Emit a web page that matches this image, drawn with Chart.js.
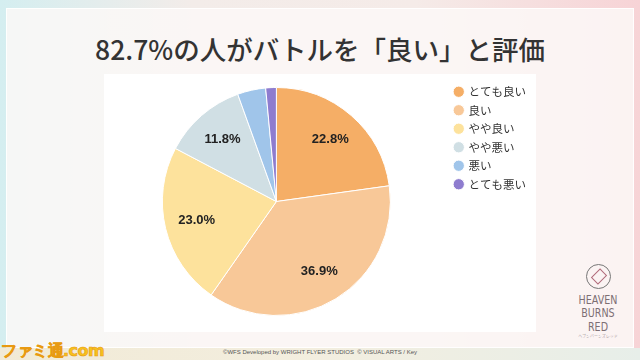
<!DOCTYPE html>
<html lang="ja">
<head>
  <meta charset="UTF-8">
  <title>82.7%の人がバトルを「良い」と評価</title>
  <script src="https://cdn.jsdelivr.net/npm/chart.js"></script>
  <style>
    html, body {
      margin: 0;
      padding: 0;
    }
    body {
      width: 640px;
      height: 360px;
      position: relative;
      overflow: hidden;
      font-family: "Noto Sans CJK JP", "Noto Sans", sans-serif;
      background: linear-gradient(90deg, #d4eef0 0%, #f3ece9 30%, #f5ebe8 65%, #f7d3d6 100%);
    }
    #panel {
      position: absolute;
      left: 6px;
      top: 8px;
      width: 626px;
      height: 338px;
      background: rgba(251, 248, 247, 0.85);
      border: 1px solid rgba(255, 255, 255, 0.9);
    }
    #footer {
      position: absolute;
      left: 0;
      top: 348px;
      width: 640px;
      height: 12px;
      background: linear-gradient(90deg, #f1ead6 0%, #f3eedf 50%, #e7eee9 100%);
    }
    #copy {
      position: absolute;
      left: 0;
      width: 640px;
      top: 348px;
      text-align: center;
      font-family: "Liberation Sans", Arial, sans-serif;
      font-size: 6px;
      color: #555;
      line-height: 9px;
    }
    #titulo {
      position: absolute;
      left: 0;
      top: 29px;
      width: 640px;
      text-align: center;
      font-size: 26.5px;
      font-weight: 500;
      color: #333;
      line-height: 40px;
    }
    #caja {
      position: absolute;
      left: 104px;
      top: 74px;
      width: 432px;
      height: 258px;
      background: #fff;
    }
    #logo {
      position: absolute;
      left: 565px;
      top: 264px;
      width: 66px;
      text-align: center;
      color: #7d6f74;
      font-family: "DejaVu Sans Condensed", "DejaVu Sans", sans-serif;
      font-weight: 300;
    }
    #logo .icono {
      width: 25px;
      height: 25px;
      margin: 0 auto 4px;
      border: 1.5px solid #777;
      border-radius: 50%;
      box-sizing: border-box;
      position: relative;
    }
    #logo .icono::after {
      content: "";
      position: absolute;
      left: 7px;
      top: 5px;
      width: 8px;
      height: 11px;
      border: 1px solid #b06a7a;
      transform: rotate(45deg);
    }
    #logo .linea {
      font-size: 12.5px;
      line-height: 13.3px;
      transform: scaleX(0.85);
    }
    #logo .kana {
      font-family: "Noto Sans CJK JP", sans-serif;
      font-size: 4px;
      line-height: 7px;
    }
    #famitsu {
      position: absolute;
      left: 1px;
      top: 341px;
      font-family: "DejaVu Sans", sans-serif;
      font-weight: bold;
      font-size: 16px;
      color: #f7c21c;
      letter-spacing: -0.5px;
      -webkit-text-stroke: 0.6px #e89a12;
    }
  </style>
</head>
<body>
  <div id="panel"></div>
  <div id="footer"></div>
  <div id="copy">©WFS Developed by WRIGHT FLYER STUDIOS &nbsp;© VISUAL ARTS / Key</div>
  <div id="titulo">82.7%の人がバトルを「良い」と評価</div>
  <div id="caja"><canvas id="grafica" width="432" height="258"></canvas></div>
  <div id="logo">
    <div class="icono"></div>
    <div class="linea">HEAVEN</div>
    <div class="linea">BURNS</div>
    <div class="linea">RED</div>
    <div class="kana">ヘブンバーンズレッド</div>
  </div>
  <div id="famitsu">ファミ通.com</div>

  <script>
    // Datos del gráfico
    const categorias = ['とても良い', '良い', 'やや良い', 'やや悪い', '悪い', 'とても悪い'];
    const porcentajes = [22.8, 36.9, 23.0, 11.8, 4.0, 1.5];
    const colores = ['#f5ae66', '#f8c898', '#fde29c', '#d0dfe4', '#a0c5ea', '#8e7ccf'];

    // Etiquetas de porcentaje dentro de cada sector
    const etiquetas = {
      id: 'etiquetas',
      afterDatasetsDraw(chart) {
        const ctx = chart.ctx;
        const meta = chart.getDatasetMeta(0);
        ctx.save();
        ctx.font = 'bold 13px "Liberation Sans", Arial, sans-serif';
        ctx.fillStyle = '#222';
        ctx.textAlign = 'center';
        ctx.textBaseline = 'middle';
        meta.data.forEach((arco, i) => {
          const v = porcentajes[i];
          if (v < 10) return;
          const p = arco.getProps(['x', 'y', 'startAngle', 'endAngle', 'outerRadius'], true);
          const a = (p.startAngle + p.endAngle) / 2;
          const r = p.outerRadius * 0.72;
          ctx.fillText(v.toFixed(1) + '%', p.x + Math.cos(a) * r, p.y + Math.sin(a) * r);
        });
        ctx.restore();
      }
    };

    const ctx = document.getElementById('grafica').getContext('2d');
    const grafica = new Chart(ctx, {
      type: 'pie',
      data: {
        labels: categorias,
        datasets: [{
          data: porcentajes,
          backgroundColor: colores,
          borderColor: '#ffffff',
          borderWidth: 1,
          radius: 114
        }]
      },
      options: {
        responsive: false,
        animation: false,
        layout: {
          padding: { top: 5, bottom: 8, left: 1, right: 0 }
        },
        plugins: {
          legend: {
            position: 'right',
            align: 'start',
            labels: {
              usePointStyle: true,
              pointStyle: 'circle',
              boxWidth: 8,
              boxHeight: 8,
              padding: 7,
              color: '#333',
              font: { size: 11.5, family: '"Noto Sans CJK JP", sans-serif' }
            }
          },
          tooltip: { enabled: false }
        }
      },
      plugins: [etiquetas]
    });
  </script>
</body>
</html>
